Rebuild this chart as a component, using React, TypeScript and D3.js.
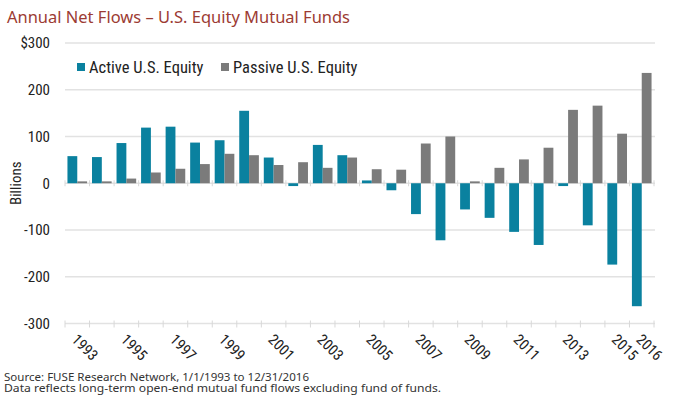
import * as d3 from "d3";

const years = d3.range(1993, 2017).map(String);
const activeFlows = [58, 56, 86, 119, 121, 87, 92, 155, 55, -6, 82, 60, 6, -15, -66, -122, -56, -74, -104, -132, -6, -90, -174, -263];
const passiveFlows = [4, 4, 10, 23, 31, 41, 63, 60, 39, 45, 33, 55, 30, 29, 85, 100, 4, 33, 51, 76, 157, 166, 106, 236];
const yTicks = [-300, -200, -100, 0, 100, 200, 300];
const labelYears = ["1993", "1995", "1997", "1999", "2001", "2003", "2005", "2007", "2009", "2011", "2013", "2015", "2016"];

const series = [
  { key: "active", name: "Active U.S. Equity", color: "#0a819f", values: activeFlows },
  { key: "passive", name: "Passive U.S. Equity", color: "#7b7b7b", values: passiveFlows },
];

const W = 675;
const H = 399;
const condensed = "'Liberation Sans Narrow', 'Roboto Condensed', 'Arial Narrow', Roboto, sans-serif";
const humanist = "'Noto Sans', 'Open Sans', sans-serif";

export default function App() {
  const x0 = d3.scaleBand<string>().domain(years).range([65, 654]).padding(0);
  const x1 = d3
    .scaleBand<string>()
    .domain(series.map((s) => s.key))
    .range([0, x0.bandwidth()])
    .paddingInner(0)
    .paddingOuter(0.25);
  const y = d3.scaleLinear().domain([-300, 300]).range([323.5, 43]);

  const ticksX = years.map((yr) => x0(yr)!).concat([654]);

  return (
    <svg width={W} height={H} style={{ position: "fixed", left: 0, top: 0, background: "#fff" }}>
      <text x={7} y={23} fontFamily={humanist} fontSize={17} fill="#9c3b33" textLength={343} lengthAdjust="spacingAndGlyphs">
        Annual Net Flows – U.S. Equity Mutual Funds
      </text>

      {/* grid */}
      {yTicks.map((t) => (
        <g key={t}>
          <line x1={65} x2={655} y1={y(t)} y2={y(t)} stroke="#e2e2e2" strokeWidth={1.5} />
          <text
            x={50}
            y={y(t)}
            dy="0.35em"
            textAnchor="end"
            fontFamily={condensed}
            fontSize={15}
            fill="#222"
          >
            {t === 300 ? "$300" : String(t)}
          </text>
        </g>
      ))}

      <text
        transform={`translate(21,${y(0)}) rotate(-90)`}
        textAnchor="middle"
        fontFamily={condensed}
        fontSize={15}
        fill="#222"
      >
        Billions
      </text>

      {/* bars */}
      {series.map((s) => (
        <g key={s.key} fill={s.color}>
          {s.values.map((v, i) => (
            <rect
              key={years[i]}
              x={x0(years[i])! + x1(s.key)!}
              width={x1.bandwidth()}
              y={y(Math.max(0, v))}
              height={Math.abs(y(v) - y(0))}
            />
          ))}
        </g>
      ))}

      {/* tick marks */}
      {ticksX.map((tx, i) => (
        <g key={i} stroke="#d8d8d8" strokeWidth={1}>
          <line x1={tx} x2={tx} y1={y(0) - 3} y2={y(0) + 3} />
          <line x1={tx} x2={tx} y1={y(-300) - 3} y2={y(-300) + 4} />
        </g>
      ))}

      {/* x labels */}
      {labelYears.map((yr) => {
        const cx = x0(yr)! + x0.bandwidth() / 2;
        return (
          <text
            key={yr}
            transform={`translate(${cx + 1},${333}) rotate(45)`}
            fontFamily={condensed}
            fontSize={15}
            dy="0.7em"
            fill="#222"
          >
            {yr}
          </text>
        );
      })}

      {/* legend */}
      {series.map((s, i) => {
        const lx = i === 0 ? 77 : 221;
        return (
          <g key={s.key}>
            <rect x={lx} y={63} width={8} height={8} fill={s.color} />
            <text x={lx + 12} y={73} fontFamily={condensed} fontSize={16.5} fill="#222">
              {s.name}
            </text>
          </g>
        );
      })}

      {/* footnotes */}
      <text x={4} y={380.5} fontFamily={humanist} fontSize={10.5} fill="#333" textLength={305} lengthAdjust="spacingAndGlyphs">
        Source: FUSE Research Network, 1/1/1993 to 12/31/2016
      </text>
      <text x={4} y={391.5} fontFamily={humanist} fontSize={10.5} fill="#333" textLength={437} lengthAdjust="spacingAndGlyphs">
        Data reflects long-term open-end mutual fund flows excluding fund of funds.
      </text>
    </svg>
  );
}
